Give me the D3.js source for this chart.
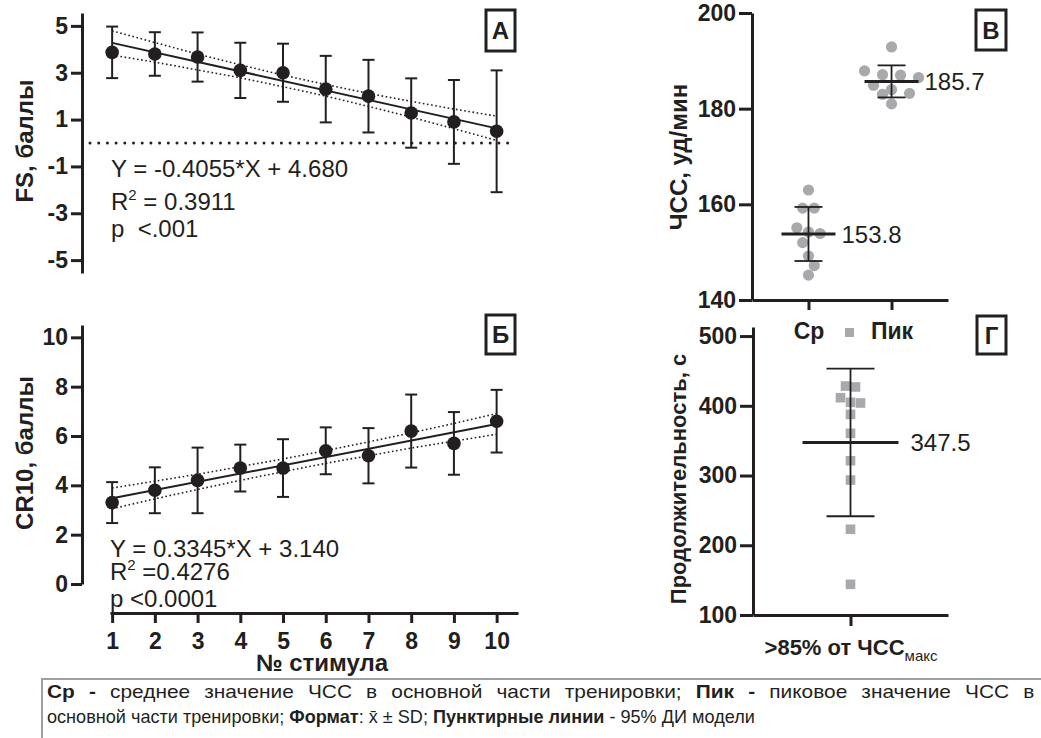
<!DOCTYPE html>
<html>
<head>
<meta charset="utf-8">
<style>
  body { margin: 0; background: #fff; }
  svg { font-family: "Liberation Sans", Arial, sans-serif; }
  .axis path, .axis line { stroke: #231f20; stroke-width: 3; }
  .axis text { font-size: 23px; font-weight: bold; fill: #231f20; }
  .note { font-size: 24px; fill: #231f20; white-space: pre; }
  .title { font-size: 24px; font-weight: bold; fill: #231f20; }
</style>
</head>
<body>
<svg id="chart" width="1041" height="738"></svg>
<script src="https://cdn.jsdelivr.net/npm/d3@7"></script>
<script>
// --- data ---
const stimuli = [1, 2, 3, 4, 5, 6, 7, 8, 9, 10];

const fsMean = [3.87, 3.8, 3.67, 3.1, 3.0, 2.3, 2.0, 1.28, 0.9, 0.5];
const fsSd   = [1.1, 0.93, 1.05, 1.18, 1.24, 1.42, 1.55, 1.48, 1.79, 2.6];
const fsFit  = [-0.4055, 4.680];           // slope, intercept
const fsCiHi = [4.79, 4.29, 3.80, 3.34, 2.90, 2.50, 2.12, 1.78, 1.45, 1.15];
const fsCiLo = [3.75, 3.45, 3.12, 2.78, 2.40, 2.00, 1.56, 1.10, 0.61, 0.11];
const fsTicks = [5, 3, 1, -1, -3, -5];

const crMean = [3.3, 3.8, 4.2, 4.7, 4.7, 5.4, 5.2, 6.2, 5.7, 6.6];
const crSd   = [0.83, 0.93, 1.33, 0.95, 1.17, 0.95, 1.12, 1.48, 1.27, 1.27];
const crFit  = [0.3345, 3.140];
const crCiHi = [3.89, 4.17, 4.45, 4.76, 5.07, 5.41, 5.76, 6.13, 6.51, 6.91];
const crCiLo = [3.05, 3.45, 3.83, 4.20, 4.55, 4.89, 5.20, 5.51, 5.79, 6.07];
const crTicks = [0, 2, 4, 6, 8, 10];

const hrGroups = ["Ср", "Пик"];
const hrAvg  = [163.0, 159.2, 159.2, 155.1, 154.2, 152.0, 149.2, 147.2, 145.2, 153.9];
const hrPeak = [192.9, 187.9, 187.1, 187.0, 186.5, 184.9, 184.0, 183.2, 183.0, 181.0];
const hrMean = [153.8, 185.7];
const hrSd   = [5.65, 3.35];
const hrTicks = [140, 160, 180, 200];

const durGroup = [">85% от ЧСС"];
const durValues = [428.3, 427, 411.6, 405, 404, 387.7, 360.5, 321.2, 293.5, 222.9, 144];
const durMean = [347.5];
const durSd = [105.9];
const durTicks = [100, 200, 300, 400, 500];

const ink = "#231f20", grey = "#a7a9ac";
const svg = d3.select("#chart");
const plain = d => String(d);   // keep hyphen minus like the original

// shared x scale for panels А and Б
let x = d3.scaleLinear().domain([0.95, 10.5]).range([110, 518]);

function regressionPanel(yScale, ticks, mean, sd, fit, ciHi, ciLo) {
  let g = svg.append("g");
  g.append("g").attr("class", "axis")
    .attr("transform", "translate(82,0)")
    .call(d3.axisLeft(yScale).tickValues(ticks).tickFormat(plain)
      .tickSize(11).tickSizeOuter(0).tickPadding(3));

  let band = d3.line().x((d, i) => x(stimuli[i])).y(d => yScale(d)).curve(d3.curveMonotoneX);
  [ciHi, ciLo].forEach(arr => {
    g.append("path").attr("d", band(arr))
      .attr("fill", "none").attr("stroke", ink).attr("stroke-width", 1.6)
      .attr("stroke-dasharray", "1.6 2.6");
  });

  let x0 = stimuli[0], x1 = stimuli[stimuli.length - 1];
  g.append("line")
    .attr("x1", x(x0)).attr("y1", yScale(fit[0] * x0 + fit[1]))
    .attr("x2", x(x1)).attr("y2", yScale(fit[0] * x1 + fit[1]))
    .attr("stroke", ink).attr("stroke-width", 2);

  let bars = g.selectAll(".err").data(stimuli).enter().append("g");
  bars.append("line")
    .attr("x1", d => x(d)).attr("x2", d => x(d))
    .attr("y1", (d, i) => yScale(mean[i] + sd[i])).attr("y2", (d, i) => yScale(mean[i] - sd[i]))
    .attr("stroke", ink).attr("stroke-width", 2);
  [1, -1].forEach(s => {
    bars.append("line")
      .attr("x1", d => x(d) - 6).attr("x2", d => x(d) + 6)
      .attr("y1", (d, i) => yScale(mean[i] + s * sd[i])).attr("y2", (d, i) => yScale(mean[i] + s * sd[i]))
      .attr("stroke", ink).attr("stroke-width", 2);
  });
  g.selectAll(".pt").data(stimuli).enter().append("circle")
    .attr("cx", d => x(d)).attr("cy", (d, i) => yScale(mean[i]))
    .attr("r", 6.8).attr("fill", ink);
  return g;
}

function boxLabel(x0, y0, w, h, t) {
  svg.append("rect").attr("x", x0).attr("y", y0).attr("width", w).attr("height", h)
    .attr("fill", "none").attr("stroke", ink).attr("stroke-width", 3);
  svg.append("text").attr("class", "title").attr("x", x0 + w / 2).attr("y", y0 + h / 2)
    .attr("dy", "0.36em").attr("text-anchor", "middle").text(t);
}

function yTitle(cx, cy, t, size) {
  svg.append("text").attr("class", "title")
    .attr("transform", `translate(${cx},${cy}) rotate(-90)`)
    .attr("text-anchor", "middle").attr("dy", "0.36em")
    .style("font-size", size + "px").text(t);
}

function regText(x0, ys, eq, r2, p) {
  svg.append("text").attr("class", "note").attr("x", x0).attr("y", ys[0]).text(eq);
  let r = svg.append("text").attr("class", "note").attr("x", x0).attr("y", ys[1]);
  r.append("tspan").text("R");
  r.append("tspan").attr("dy", -10).style("font-size", "15px").text("2");
  r.append("tspan").attr("dy", 10).text(r2);
  svg.append("text").attr("class", "note").attr("x", x0).attr("y", ys[2]).text(p);
}

// --- panel А ---
let yFs = d3.scaleLinear().domain([-5.55, 5.55]).range([273, 13]);
svg.append("line").attr("x1", 90).attr("x2", 514).attr("y1", yFs(0)).attr("y2", yFs(0))
  .attr("stroke", ink).attr("stroke-width", 3).attr("stroke-linecap", "round")
  .attr("stroke-dasharray", "0 8.7");
regressionPanel(yFs, fsTicks, fsMean, fsSd, fsFit, fsCiHi, fsCiLo);
regText(111, [177, 210, 237], "Y = -0.4055*X + 4.680", " = 0.3911", "p  <.001");
boxLabel(486, 10, 29, 41, "А");
yTitle(24, 141, "FS, баллы", 24);

// --- panel Б ---
let yCr = d3.scaleLinear().domain([0, 10.5]).range([584, 325]);
regressionPanel(yCr, crTicks, crMean, crSd, crFit, crCiHi, crCiLo);
svg.append("g").attr("class", "axis").attr("transform", "translate(0,613)")
  .call(d3.axisBottom(x).tickValues(stimuli).tickSize(10).tickSizeOuter(0).tickPadding(10));
regText(110, [557, 580, 607], "Y = 0.3345*X + 3.140", " =0.4276", "p <0.0001");
boxLabel(486, 315, 29, 39, "Б");
yTitle(24, 453, "CR10, баллы", 24);
svg.append("text").attr("class", "title").attr("x", 322).attr("y", 671)
  .attr("text-anchor", "middle").text("№ стимула");

// beeswarm-style horizontal spread for the scatter columns
function swarm(values, y, step, gap) {
  let pts = values.map(v => ({ v: v, py: y(v), dx: 0 })).sort((a, b) => a.py - b.py);
  let bins = [];
  pts.forEach(p => {
    let last = bins[bins.length - 1];
    if (last && p.py - last[0].py < gap) last.push(p); else bins.push([p]);
  });
  let prev = null, flip = -1;
  bins.forEach(bin => {
    bin.forEach((p, i) => { p.dx = (i - (bin.length - 1) / 2) * step; });
    if (bin.length === 1 && prev) {
      let p = bin[0];
      if (prev.some(q => Math.hypot(q.dx - p.dx, q.py - p.py) < gap * 1.2)) {
        p.dx = flip * step / 2; flip = -flip;
      }
    }
    prev = bin;
  });
  return pts;
}

// --- panel В ---
let yHr = d3.scaleLinear().domain([140, 200]).range([300, 13]);
let xHr = d3.scalePoint().domain(hrGroups).range([752, 948]).padding(0.68);
svg.append("g").attr("class", "axis").attr("transform", "translate(752,0)")
  .call(d3.axisLeft(yHr).tickValues(hrTicks).tickSize(13).tickSizeOuter(0).tickPadding(3));
svg.append("g").attr("class", "axis").attr("transform", "translate(0,300)")
  .call(d3.axisBottom(xHr).tickSize(10).tickSizeOuter(0).tickPadding(13));

[hrAvg, hrPeak].forEach((vals, gi) => {
  let cx = xHr(hrGroups[gi]);
  svg.append("g").selectAll("circle").data(swarm(vals, yHr, gi ? 18 : 11.6, 8.8)).enter()
    .append("circle").attr("cx", d => cx + d.dx).attr("cy", d => d.py)
    .attr("r", 5.6).attr("fill", grey);
  let m = hrMean[gi], s = hrSd[gi];
  svg.append("line").attr("x1", cx).attr("x2", cx).attr("y1", yHr(m + s)).attr("y2", yHr(m - s))
    .attr("stroke", ink).attr("stroke-width", 1.8);
  [m + s, m - s].forEach(v => svg.append("line")
    .attr("x1", cx - 14).attr("x2", cx + 14).attr("y1", yHr(v)).attr("y2", yHr(v))
    .attr("stroke", ink).attr("stroke-width", 1.8));
  svg.append("line").attr("x1", cx - 27).attr("x2", cx + 27).attr("y1", yHr(m)).attr("y2", yHr(m))
    .attr("stroke", ink).attr("stroke-width", 3);
  svg.append("text").attr("class", "note").attr("x", cx + 33).attr("y", yHr(m))
    .attr("dy", "0.36em").text(m.toFixed(1));
});
// stray legend marker between the group labels
svg.append("rect").attr("x", 845).attr("y", 328).attr("width", 9).attr("height", 9).attr("fill", grey);
boxLabel(976, 10, 30, 40, "В");
yTitle(678, 157, "ЧСС, уд/мин", 24);

// --- panel Г ---
let yDur = d3.scaleLinear().domain([100, 513]).range([615, 327]);
let xDur = d3.scalePoint().domain(durGroup).range([753, 948]).padding(0.5);
svg.append("g").attr("class", "axis").attr("transform", "translate(753,0)")
  .call(d3.axisLeft(yDur).tickValues(durTicks).tickSize(13).tickSizeOuter(0).tickPadding(3));
let durAx = svg.append("g").attr("class", "axis").attr("transform", "translate(0,615)")
  .call(d3.axisBottom(xDur).tickSize(11).tickSizeOuter(0).tickPadding(13));
durAx.selectAll(".tick text").text(null).style("font-size", "22px").each(function (d) {
  let t = d3.select(this);
  t.append("tspan").text(d);
  t.append("tspan").attr("dy", 6).style("font-size", "15px").style("font-weight", "normal").text("макс");
});

let dcx = xDur(durGroup[0]);
svg.append("g").selectAll("rect").data(swarm(durValues, yDur, 10, 8)).enter()
  .append("rect").attr("x", d => dcx + d.dx - 4.8).attr("y", d => d.py - 4.8)
  .attr("width", 9.6).attr("height", 9.6).attr("fill", grey);
{
  let m = durMean[0], s = durSd[0];
  svg.append("line").attr("x1", dcx).attr("x2", dcx).attr("y1", yDur(m + s)).attr("y2", yDur(m - s))
    .attr("stroke", ink).attr("stroke-width", 1.8);
  [m + s, m - s].forEach(v => svg.append("line")
    .attr("x1", dcx - 24).attr("x2", dcx + 24).attr("y1", yDur(v)).attr("y2", yDur(v))
    .attr("stroke", ink).attr("stroke-width", 1.8));
  svg.append("line").attr("x1", dcx - 48).attr("x2", dcx + 48).attr("y1", yDur(m)).attr("y2", yDur(m))
    .attr("stroke", ink).attr("stroke-width", 3);
  svg.append("text").attr("class", "note").attr("x", dcx + 60).attr("y", yDur(m))
    .attr("dy", "0.36em").text(m.toFixed(1));
}
boxLabel(977, 316, 29, 38, "Г");
yTitle(678, 479, "Продолжительность, с", 22);

// --- caption (condensed font, first line justified) ---
svg.append("rect").attr("x", 42).attr("y", 679).attr("width", 1012).attr("height", 70)
  .attr("fill", "none").attr("stroke", "#9d9fa2").attr("stroke-width", 2);
const capLines = [
  [["Ср -", true], [" среднее значение ЧСС в основной части тренировки; ", false],
   ["Пик -", true], [" пиковое значение ЧСС в", false]],
  [["основной части тренировки; ", false], ["Формат", true], [": x\u0304 ± SD; ", false],
   ["Пунктирные линии", true], [" - 95% ДИ модели", false]]
];
const capWidths = [988, 708];
let capTexts = capLines.map((line, li) => {
  let t = svg.append("text").attr("x", 0).attr("y", 698 + li * 25)
    .style("font-size", "18px").attr("fill", ink);
  line.forEach(([s, b]) => t.append("tspan").style("font-weight", b ? "bold" : "normal").text(s));
  return t;
});
// second line sets the squeeze; the first gets a bit wider glyphs plus extra word gaps
let w0 = capTexts[0].node().getComputedTextLength();
let w1 = capTexts[1].node().getComputedTextLength();
let k2 = capWidths[1] / w1;
let k1 = (k2 + capWidths[0] / w0) / 2;
capTexts[1].attr("transform", `translate(47,0) scale(${k2},1)`);
capTexts[0].attr("transform", `translate(47,0) scale(${k1},1)`);
let gaps = capLines[0].map(p => p[0]).join("").split(" ").length - 1;
capTexts[0].style("word-spacing", ((capWidths[0] / k1 - w0) / gaps) + "px");
</script>
</body>
</html>
